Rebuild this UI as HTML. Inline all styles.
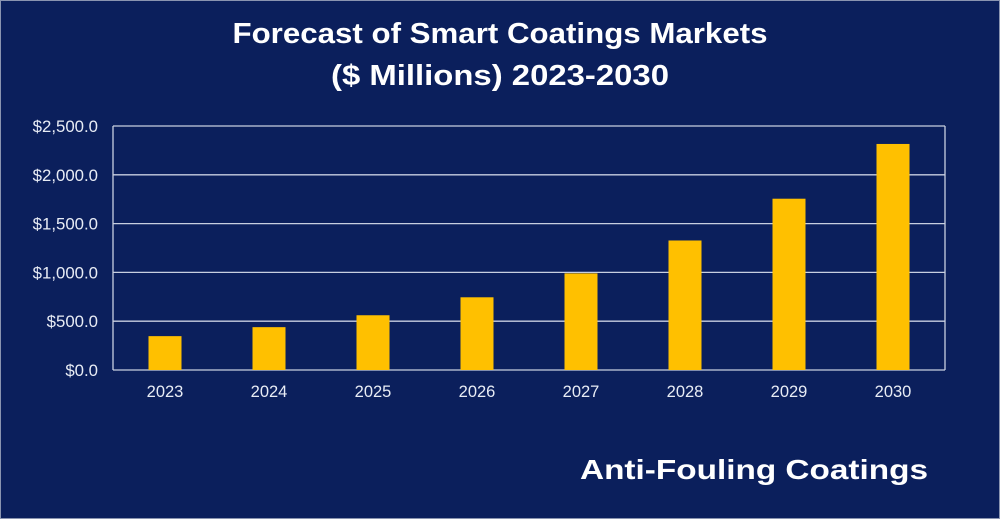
<!DOCTYPE html>
<html><head><meta charset="utf-8"><style>
html,body{margin:0;padding:0;}
body{width:1000px;height:519px;background:#0b1f5c;overflow:hidden;font-family:"Liberation Sans",sans-serif;}
#wrap{position:absolute;left:0;top:0;width:998px;height:517px;border:1px solid #8a94b0;}
</style></head><body>
<div id="wrap"></div>
<svg id="chart" width="1000" height="519" style="position:absolute;left:0;top:0">
<text x="500" y="43" text-anchor="middle" fill="#fff" font-size="29" font-weight="bold" textLength="535" lengthAdjust="spacingAndGlyphs">Forecast of Smart Coatings Markets</text>
<text x="500" y="85" text-anchor="middle" fill="#fff" font-size="29" font-weight="bold" textLength="338" lengthAdjust="spacingAndGlyphs">($ Millions) 2023-2030</text>
<text x="928" y="479" text-anchor="end" fill="#fff" font-size="28" font-weight="bold" textLength="348" lengthAdjust="spacingAndGlyphs">Anti-Fouling Coatings</text>
<g id="grid"></g><g id="bars"></g><g id="axes"></g>
</svg>
<script>
const categories=["2023","2024","2025","2026","2027","2028","2029","2030"];
const values=[347,439,561,745,990,1327,1755,2316];
const yTicks=[0,500,1000,1500,2000,2500];
const yTickLabels=["$0.0","$500.0","$1,000.0","$1,500.0","$2,000.0","$2,500.0"];
const NS="http://www.w3.org/2000/svg";
const L=113,R=945,T=126,B=370,yMax=2500;
const y=v=>B-(v/yMax)*(B-T);
const band=(R-L)/categories.length;
const x=i=>L+band*(i+0.5);
function mk(tag,attrs,parent){const e=document.createElementNS(NS,tag);for(const k in attrs)e.setAttribute(k,attrs[k]);parent.appendChild(e);return e;}
const grid=document.getElementById('grid'),bars=document.getElementById('bars'),axes=document.getElementById('axes');
yTicks.forEach((t,i)=>{
  const ln=mk('line',{x1:L,x2:R,y1:y(t),y2:y(t),stroke:'#c8cfe0','stroke-width':1.3},grid);
  
  
  const tx=mk('text',{x:98,y:y(t)+6,'text-anchor':'end',fill:'#e8ecf5','font-size':16.8},axes);
  tx.textContent=yTickLabels[i];
  
  
});
const rl=mk('line',{x1:R,x2:R,y1:T,y2:B,stroke:'#c8cfe0','stroke-width':1.3},grid);


const ll=mk('line',{x1:L,x2:L,y1:T,y2:B,stroke:'#c8cfe0','stroke-width':1.3},grid);


categories.forEach((c,i)=>{
  const w=33;
  const r=mk('rect',{x:x(i)-w/2,y:y(values[i]),width:w,height:B-y(values[i]),fill:'#ffc000'},bars);
  
  
  const tx=mk('text',{x:x(i),y:397,'text-anchor':'middle',fill:'#e8ecf5','font-size':16.5},axes);
  tx.textContent=c;
  
  
});
</script>
</body></html>
